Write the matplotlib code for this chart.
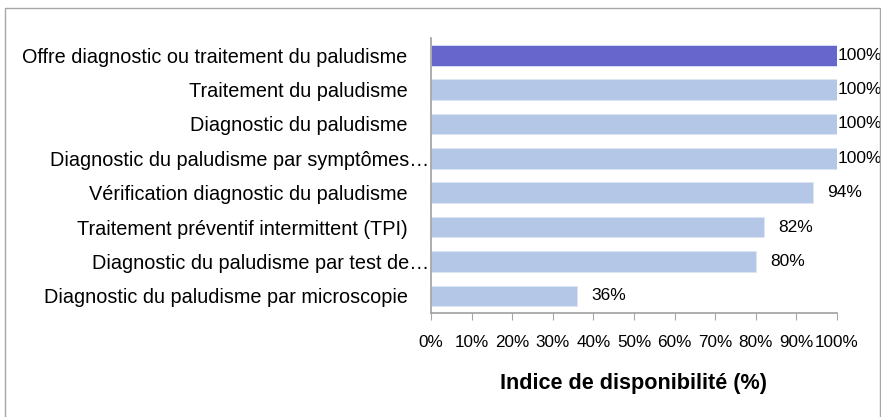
import matplotlib
matplotlib.use("Agg")
from matplotlib import pyplot
from matplotlib.patches import Rectangle
from matplotlib.ticker import MultipleLocator, PercentFormatter

pyplot.rcParams['font.family'] = ['Liberation Sans', 'DejaVu Sans']

categories = [
    'Offre diagnostic ou traitement du paludisme    ',
    'Traitement du paludisme    ',
    'Diagnostic du paludisme    ',
    'Diagnostic du paludisme par symptômes…',
    'Vérification diagnostic du paludisme    ',
    'Traitement préventif intermittent (TPI)    ',
    'Diagnostic du paludisme par test de…',
    'Diagnostic du paludisme par microscopie    ',
]
values = [100, 100, 100, 100, 94, 82, 80, 36]
highlight = [True, False, False, False, False, False, False, False]

fig = pyplot.figure(figsize=(8.81, 4.17), dpi=100)
ax = fig.add_axes([431 / 881, 1 - 313 / 417, 406 / 881, 275 / 417])

# grey frame around the whole chart, open at the bottom
fig.patches.append(Rectangle((5 / 881, -0.1), 875 / 881, 1.1 - 8 / 417,
                             transform=fig.transFigure, fill=False,
                             edgecolor='#a6a6a6', linewidth=1))

colors = ['#6666cc' if h else '#b4c7e7' for h in highlight]
pos = range(len(values))
ax.barh(pos, values, height=0.6, color=colors, edgecolor='#dbe5f4',
        linewidth=0.6)

for y, v in zip(pos, values):
    off = 1 if v >= 100 else 14
    ax.annotate(f'{v}%', (v, y), xytext=(off * 0.72, 0),
                textcoords='offset points', va='center', ha='left',
                fontsize=12.5, annotation_clip=False)

ax.set_xlim(0, 100)
ax.set_ylim(len(values) - 0.5, -0.5)
ax.set_yticks(list(pos))
ax.set_yticklabels(categories, fontsize=14.3)
ax.tick_params(axis='y', length=0, pad=1)
ax.xaxis.set_major_locator(MultipleLocator(10))
ax.xaxis.set_major_formatter(PercentFormatter(decimals=0))
ax.tick_params(axis='x', labelsize=12.3, length=5, color='#a6a6a6', pad=10.5)

for side in ('top', 'right'):
    ax.spines[side].set_visible(False)
for side in ('left', 'bottom'):
    ax.spines[side].set_color('#a0a0a0')
    ax.spines[side].set_linewidth(1.2)

ax.set_xlabel('Indice de disponibilité (%)', fontsize=15.6, fontweight='bold',
              labelpad=17)

fig.savefig('out.png', dpi=100)
